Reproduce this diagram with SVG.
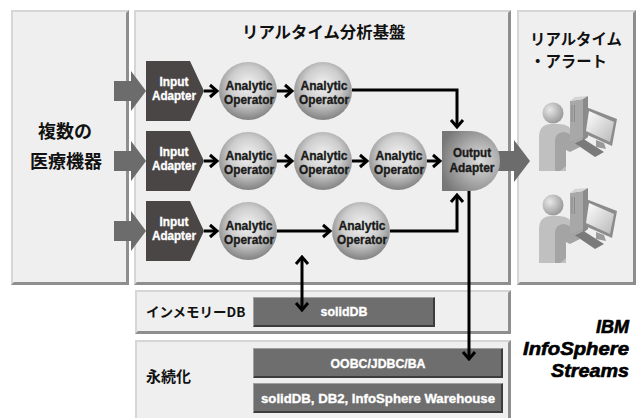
<svg xmlns="http://www.w3.org/2000/svg" width="641" height="418" viewBox="0 0 641 418">
  <style>
    .face{fill:#efefef}
    .lt{fill:#d6d6d6}
    .dk{fill:#8e8e8e}
    .jp{font-family:"Noto Sans CJK JP","Liberation Sans",sans-serif;font-weight:bold;fill:#111}
    .lat{font-family:"Liberation Sans","DejaVu Sans",sans-serif;font-weight:bold;font-size:13px;text-anchor:middle;stroke-width:0.35}
    .ia{fill:#4b4646}
    .white{fill:#fff;stroke:#fff}
    .dark{fill:#1a1a1a;stroke:#1a1a1a}
    .big{fill:#6c6c6c}
    .conn{fill:none;stroke:#000;stroke-width:3;stroke-linejoin:miter}
    .bface{fill:#6e6e6e}
    .blt{fill:#a0a0a0}
    .bdk{fill:#3c3c3c}
    .brand{font-family:"Liberation Sans",Arial,sans-serif;font-weight:bold;font-style:italic;font-size:18px;text-anchor:end;fill:#000;stroke:#000;stroke-width:0.6}
  </style>
  <defs>
    <radialGradient id="sphere" cx="50%" cy="40%" r="58%">
      <stop offset="0" stop-color="#f2f2f2"/>
      <stop offset="0.55" stop-color="#cdcdcd"/>
      <stop offset="1" stop-color="#878787"/>
    </radialGradient>
    <radialGradient id="outGrad" cx="65%" cy="50%" r="70%">
      <stop offset="0" stop-color="#dedede"/>
      <stop offset="1" stop-color="#777"/>
    </radialGradient>
    <radialGradient id="headGrad" cx="35%" cy="35%" r="70%">
      <stop offset="0" stop-color="#e8e8e8"/>
      <stop offset="1" stop-color="#979797"/>
    </radialGradient>
    <linearGradient id="screenGrad" x1="0" y1="0" x2="1" y2="1">
      <stop offset="0" stop-color="#ffffff"/>
      <stop offset="1" stop-color="#b8b8b8"/>
    </linearGradient>
    <marker id="chev" markerUnits="userSpaceOnUse" viewBox="-10 -8 12 16" markerWidth="12" markerHeight="16" refX="0" refY="0" orient="auto-start-reverse">
      <path d="M-7,-6 L0,0 L-7,6" fill="none" stroke="#000" stroke-width="3"/>
    </marker>
    <!-- operator at a desk with a computer -->
    <g id="workstation">
      <path d="M539,171 V137 Q539,124 552,124 H559 Q571,124 573,134 L575,142 L566,146 V171 Z" fill="#c0c0c0"/>
      <path d="M555,171 V142 Q555,132 564,132 Q572,133 574,141 L580,147 L570,152 L566,150 V166 L560,171 Z" fill="#a4a4a4"/>
      <circle cx="553" cy="113" r="10.5" fill="url(#headGrad)"/>
      <polygon points="570,101 583,99 583,141 570,141" fill="#a8a8a8"/>
      <polygon points="570,101 575,97 588,96 583,99" fill="#d4d4d4"/>
      <polygon points="583,99 588,96 588,137 583,141" fill="#8a8a8a"/>
      <path d="M572,105 V122 M574.5,105 V122" stroke="#8a8a8a" stroke-width="1"/>
      <polygon points="586,107 617,119 612,146 583,133" fill="#8c8c8c"/>
      <polygon points="589,111 614,122 610,142 586,131" fill="url(#screenGrad)"/>
      <polygon points="596,140 604,143 606,149 596,147" fill="#9a9a9a"/>
      <polygon points="573,142 582,138 604,152 595,157" fill="#7a7a7a"/>
      <polygon points="573,142 582,138 583,139.5 574.5,143.5" fill="#a8a8a8"/>
    </g>
  </defs>

  <!-- panels -->
  <g id="panel-devices">
    <rect x="11" y="10" width="118" height="275" class="dk"/>
    <polygon points="11,10 129,10 126,13 14,13 14,282 11,285" class="lt"/>
    <rect x="13" y="12" width="113" height="270" class="face"/>
    <text class="jp" x="65" y="138" font-size="18" text-anchor="middle">複数の</text>
    <text class="jp" x="66" y="168" font-size="18" text-anchor="middle">医療機器</text>
  </g>
  <g id="panel-platform">
    <rect x="134" y="10" width="377" height="275" class="dk"/>
    <polygon points="134,10 511,10 508,13 137,13 137,282 134,285" class="lt"/>
    <rect x="136" y="12" width="372" height="270" class="face"/>
    <text class="jp" x="242" y="38" font-size="16.4">リアルタイム分析基盤</text>
  </g>
  <g id="panel-alert">
    <rect x="517" y="10" width="119" height="275" class="dk"/>
    <polygon points="517,10 636,10 633,13 520,13 520,282 517,285" class="lt"/>
    <rect x="519" y="12" width="114" height="270" class="face"/>
    <text class="jp" x="530" y="45" font-size="15.4">リアルタイム</text>
    <text class="jp" x="530" y="67" font-size="15.4">・アラート</text>
    <use href="#workstation"/>
    <use href="#workstation" y="92"/>
  </g>
  <g id="panel-inmemory">
    <rect x="135" y="290" width="376" height="44" class="dk"/>
    <polygon points="135,290 511,290 508,293 138,293 138,331 135,334" class="lt"/>
    <rect x="137" y="292" width="371" height="39" class="face"/>
    <text class="jp" x="146" y="317" font-size="13.5">インメモリーDB</text>
  </g>
  <g id="panel-persist">
    <rect x="135" y="340" width="376" height="82" class="dk"/>
    <polygon points="135,340 511,340 508,343 138,343 138,419 135,422" class="lt"/>
    <rect x="137" y="342" width="371" height="77" class="face"/>
    <text class="jp" x="146" y="382" font-size="15">永続化</text>
  </g>

  <!-- storage boxes -->
  <g id="box-soliddb">
    <rect x="253" y="297" width="182" height="30" class="bdk"/>
    <polygon points="253,297 435,297 434,298 254,298 254,326 253,327" class="blt"/>
    <rect x="254" y="298" width="179" height="27" class="bface"/>
    <text class="lat white" x="344" y="316" textLength="47" lengthAdjust="spacingAndGlyphs">solidDB</text>
  </g>
  <g id="box-odbc">
    <rect x="253" y="348" width="250" height="30" class="bdk"/>
    <polygon points="253,348 503,348 502,349 254,349 254,377 253,378" class="blt"/>
    <rect x="254" y="349" width="247" height="27" class="bface"/>
    <text class="lat white" x="378" y="368" textLength="95" lengthAdjust="spacingAndGlyphs">OOBC/JDBC/BA</text>
  </g>
  <g id="box-stores">
    <rect x="253" y="383" width="250" height="30" class="bdk"/>
    <polygon points="253,383 503,383 502,384 254,384 254,412 253,413" class="blt"/>
    <rect x="254" y="384" width="247" height="27" class="bface"/>
    <text class="lat white" x="378" y="403" textLength="234" lengthAdjust="spacingAndGlyphs">solidDB, DB2, InfoSphere Warehouse</text>
  </g>

  <!-- incoming / outgoing stream arrows -->
  <g id="stream-arrows">
    <polygon class="big" points="114,81 131,81 131,71 146,91 131,111 131,101 114,101"/>
    <polygon class="big" points="114,151 131,151 131,141 146,161 131,181 131,171 114,171"/>
    <polygon class="big" points="114,221 131,221 131,211 146,231 131,251 131,241 114,241"/>
    <polygon class="big" points="498,151 514,151 514,140 530,161 514,182 514,171 498,171"/>
  </g>

  <!-- input adapters -->
  <g id="input-1">
    <path class="ia" d="M146,61 H190 L204,91 L190,121 H146 Z"/>
    <text class="lat white" x="174" y="86" textLength="29" lengthAdjust="spacingAndGlyphs">Input</text>
    <text class="lat white" x="174" y="100" textLength="44" lengthAdjust="spacingAndGlyphs">Adapter</text>
  </g>
  <g id="input-2">
    <path class="ia" d="M146,131 H190 L204,161 L190,191 H146 Z"/>
    <text class="lat white" x="174" y="156" textLength="29" lengthAdjust="spacingAndGlyphs">Input</text>
    <text class="lat white" x="174" y="170" textLength="44" lengthAdjust="spacingAndGlyphs">Adapter</text>
  </g>
  <g id="input-3">
    <path class="ia" d="M146,201 H190 L204,231 L190,261 H146 Z"/>
    <text class="lat white" x="174" y="226" textLength="29" lengthAdjust="spacingAndGlyphs">Input</text>
    <text class="lat white" x="174" y="240" textLength="44" lengthAdjust="spacingAndGlyphs">Adapter</text>
  </g>

  <!-- analytic operators -->
  <g id="op-1-1">
    <circle cx="248" cy="91" r="29" fill="url(#sphere)"/>
    <text class="lat dark" x="249" y="90" textLength="47" lengthAdjust="spacingAndGlyphs">Analytic</text>
    <text class="lat dark" x="249" y="104" textLength="50" lengthAdjust="spacingAndGlyphs">Operator</text>
  </g>
  <g id="op-1-2">
    <circle cx="323" cy="91" r="29" fill="url(#sphere)"/>
    <text class="lat dark" x="324" y="90" textLength="47" lengthAdjust="spacingAndGlyphs">Analytic</text>
    <text class="lat dark" x="324" y="104" textLength="50" lengthAdjust="spacingAndGlyphs">Operator</text>
  </g>
  <g id="op-2-1">
    <circle cx="248" cy="161" r="29" fill="url(#sphere)"/>
    <text class="lat dark" x="249" y="160" textLength="47" lengthAdjust="spacingAndGlyphs">Analytic</text>
    <text class="lat dark" x="249" y="174" textLength="50" lengthAdjust="spacingAndGlyphs">Operator</text>
  </g>
  <g id="op-2-2">
    <circle cx="323" cy="161" r="29" fill="url(#sphere)"/>
    <text class="lat dark" x="324" y="160" textLength="47" lengthAdjust="spacingAndGlyphs">Analytic</text>
    <text class="lat dark" x="324" y="174" textLength="50" lengthAdjust="spacingAndGlyphs">Operator</text>
  </g>
  <g id="op-2-3">
    <circle cx="398" cy="161" r="29" fill="url(#sphere)"/>
    <text class="lat dark" x="399" y="160" textLength="47" lengthAdjust="spacingAndGlyphs">Analytic</text>
    <text class="lat dark" x="399" y="174" textLength="50" lengthAdjust="spacingAndGlyphs">Operator</text>
  </g>
  <g id="op-3-1">
    <circle cx="248" cy="231" r="29" fill="url(#sphere)"/>
    <text class="lat dark" x="249" y="230" textLength="47" lengthAdjust="spacingAndGlyphs">Analytic</text>
    <text class="lat dark" x="249" y="244" textLength="50" lengthAdjust="spacingAndGlyphs">Operator</text>
  </g>
  <g id="op-3-2">
    <circle cx="361" cy="231" r="29" fill="url(#sphere)"/>
    <text class="lat dark" x="362" y="230" textLength="47" lengthAdjust="spacingAndGlyphs">Analytic</text>
    <text class="lat dark" x="362" y="244" textLength="50" lengthAdjust="spacingAndGlyphs">Operator</text>
  </g>

  <!-- output adapter -->
  <g id="output-adapter">
    <path d="M442,131 H470 A30,30 0 0 1 470,191 H442 Z" fill="url(#outGrad)"/>
    <text class="lat dark" x="472" y="157" textLength="38" lengthAdjust="spacingAndGlyphs">Output</text>
    <text class="lat dark" x="472" y="172" textLength="45" lengthAdjust="spacingAndGlyphs">Adapter</text>
  </g>

  <!-- connectors -->
  <g id="connectors">
    <path class="conn" marker-end="url(#chev)" d="M204,91 H217"/>
    <path class="conn" marker-end="url(#chev)" d="M277,91 H292"/>
    <path class="conn" marker-end="url(#chev)" d="M352,90 H457 V127"/>
    <path class="conn" marker-end="url(#chev)" d="M204,161 H217"/>
    <path class="conn" marker-end="url(#chev)" d="M277,161 H292"/>
    <path class="conn" marker-end="url(#chev)" d="M352,161 H367"/>
    <path class="conn" marker-end="url(#chev)" d="M427,161 H440"/>
    <path class="conn" marker-end="url(#chev)" d="M204,231 H217"/>
    <path class="conn" marker-end="url(#chev)" d="M277,231 H330"/>
    <path class="conn" marker-end="url(#chev)" d="M390,231 H457 V195"/>
    <path class="conn" marker-end="url(#chev)" d="M469,191 V359"/>
    <path class="conn" marker-start="url(#chev)" marker-end="url(#chev)" d="M302,257 V310"/>
  </g>

  <!-- product name -->
  <g id="product-name">
    <text class="brand" x="629" y="333" textLength="33" lengthAdjust="spacingAndGlyphs">IBM</text>
    <text class="brand" x="629" y="355" textLength="106" lengthAdjust="spacingAndGlyphs">InfoSphere</text>
    <text class="brand" x="629" y="377" textLength="78" lengthAdjust="spacingAndGlyphs">Streams</text>
  </g>
</svg>
